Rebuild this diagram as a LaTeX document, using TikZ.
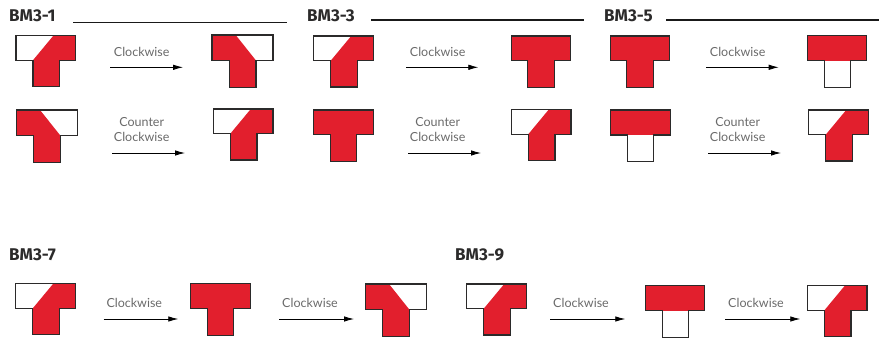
\documentclass[tikz,border=0pt]{standalone}
\usepackage{fontspec}
\setmainfont{Lato}
\newfontfamily\headfont{Fira Sans}
\usetikzlibrary{arrows.meta}
\definecolor{teered}{HTML}{E21F2D}
\definecolor{teeline}{HTML}{2B2A2A}
\definecolor{labelgray}{HTML}{6A6A6A}
\tikzset{
  x=1pt,y=-1pt,
  teeedge/.style={draw=teeline,line width=1.15pt,line join=miter},
  teefill/.style={fill=teered,draw=none},
  head/.style={font=\headfont\bfseries\fontsize{17}{17}\selectfont,text=teeline,inner sep=0pt,anchor=west},
  turn/.style={font=\fontsize{12.5}{12.5}\selectfont,text=labelgray,inner sep=0pt},
  headrule/.style={line width=1.7pt,draw=black!90},
  flow/.style={line width=0.8pt,draw=black,-{Latex[length=10pt,width=5.5pt]}},
  teeL/.pic={
    \path[teefill] (37.5,0) -- (59.7,0) -- (59.7,24.7) -- (43.7,24.7) -- (43.7,51) -- (17,51) -- (17,24.7) -- cycle;
    \path[teeedge] (0,0) -- (59.7,0) -- (59.7,24.7) -- (43.7,24.7) -- (43.7,51) -- (17,51) -- (17,24.7) -- (0,24.7) -- cycle;
  },
  teeR/.pic={
    \path[teefill] (0,0) -- (23.7,0) -- (44,25.5) -- (44,52.7) -- (17.3,52.7) -- (17.3,25.5) -- (0,25.5) -- cycle;
    \path[teeedge] (0,0) -- (61,0) -- (61,25.5) -- (44,25.5) -- (44,52.7) -- (17.3,52.7) -- (17.3,25.5) -- (0,25.5) -- cycle;
  },
  teeF/.pic={
    \path[teefill,teeedge] (0,0) -- (59.5,0) -- (59.5,24.7) -- (43,24.7) -- (43,51.7) -- (16.5,51.7) -- (16.5,24.7) -- (0,24.7) -- cycle;
  },
  teeS/.pic={
    \path[teefill] (0,0) rectangle (59.5,25);
    \path[teeedge] (0,0) -- (59.5,0) -- (59.5,25) -- (43,25) -- (43,51.7) -- (17,51.7) -- (17,25) -- (0,25) -- cycle;
  },
}
\begin{document}
\begin{tikzpicture}
\useasboundingbox (0,0) rectangle (884,338);
% headings and rules
\node[head] (h1) at (9,16) {BM3-1};
\node[head] (h3) at (307,16) {BM3-3};
\node[head] (h5) at (604,16) {BM3-5};
\node[head] (h7) at (9,255) {BM3-7};
\node[head] (h9) at (455,255) {BM3-9};
\coordinate (r1a) at (73,22.5); \coordinate (r1b) at (286.5,22.5);
\coordinate (r3a) at (371,19.7); \coordinate (r3b) at (583.7,19.7);
\coordinate (r5a) at (666.3,19.7); \coordinate (r5b) at (879,19.7);
\draw[headrule] (r1a) -- (r1b);
\draw[headrule] (r3a) -- (r3b);
\draw[headrule] (r5a) -- (r5b);
% BM3-1
\pic (a1) at (16,35.5) {teeL};
\pic (a2) at (212,35) {teeR};
\pic (a3) at (16.3,110) {teeR};
\pic (a4) at (213.3,109) {teeL};
% BM3-3
\pic (b1) at (313.7,36) {teeL};
\pic (b2) at (511.3,36) {teeF};
\pic (b3) at (313.7,110) {teeF};
\pic (b4) at (511.3,109.5) {teeL};
% BM3-5
\pic (c1) at (610.3,36) {teeF};
\pic (c2) at (807.3,35.5) {teeS};
\pic (c3) at (610.7,110) {teeS};
\pic (c4) at (808.7,110) {teeL};
% BM3-7
\pic (d1) at (15.7,283.7) {teeL};
\pic (d2) at (190.7,283.7) {teeF};
\pic (d3) at (365.3,284) {teeR};
% BM3-9
\pic (e1) at (466.7,284) {teeL};
\pic (e2) at (645.3,285.7) {teeS};
\pic (e3) at (807.3,285.7) {teeL};
% labels
\node[turn] (l1) at (141.7,51.7) {Clockwise};
\node[turn] (l2a) at (141.7,121.7) {Counter};
\node[turn] (l2b) at (141.7,136.7) {Clockwise};
\node[turn] (l3) at (437.7,51.7) {Clockwise};
\node[turn] (l4a) at (437.7,121.7) {Counter};
\node[turn] (l4b) at (437.7,136.7) {Clockwise};
\node[turn] (l5) at (737.7,51.7) {Clockwise};
\node[turn] (l6a) at (737.7,121.7) {Counter};
\node[turn] (l6b) at (737.7,136.7) {Clockwise};
\node[turn] (l7) at (134.3,302.7) {Clockwise};
\node[turn] (l8) at (310,302.7) {Clockwise};
\node[turn] (l9) at (581,302.7) {Clockwise};
\node[turn] (l10) at (756,302.7) {Clockwise};
% arrows
\coordinate (f1a) at (110,67.3); \coordinate (f1b) at (183,67.3);
\coordinate (f2a) at (112,153); \coordinate (f2b) at (185,153);
\coordinate (f3a) at (406,67.3); \coordinate (f3b) at (478.3,67.3);
\coordinate (f4a) at (408.3,153); \coordinate (f4b) at (481,153);
\coordinate (f5a) at (706,67.3); \coordinate (f5b) at (778.7,67.3);
\coordinate (f6a) at (708.3,153); \coordinate (f6b) at (781,153);
\coordinate (f7a) at (103.7,319); \coordinate (f7b) at (178.3,319);
\coordinate (f8a) at (279,319); \coordinate (f8b) at (354,319);
\coordinate (f9a) at (550.3,319); \coordinate (f9b) at (625.3,319);
\coordinate (f10a) at (725.3,319); \coordinate (f10b) at (800.3,319);
\foreach \k in {1,...,10} \draw[flow] (f\k a) -- (f\k b);
\end{tikzpicture}
\end{document}
